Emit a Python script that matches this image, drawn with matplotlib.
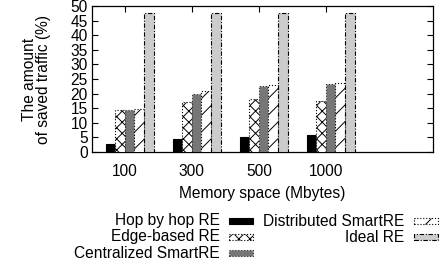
import matplotlib
matplotlib.use("Agg")
import matplotlib.pyplot as plt
from matplotlib.patches import Rectangle
import numpy as np

plt.rcParams['font.family'] = ['Liberation Sans', 'DejaVu Sans']
plt.rcParams['font.size'] = 11.2
plt.rcParams['hatch.linewidth'] = 0.7

# data
memory = ['100', '300', '500', '1000']
hop_by_hop = [2.7, 4.3, 5.0, 5.8]
edge_based = [14.3, 17.0, 18.0, 17.5]
centralized = [14.3, 20.0, 22.5, 23.3]
distributed = [14.7, 21.0, 23.0, 23.7]
ideal = [47.5, 47.5, 47.5, 47.5]

labels = ['Hop by hop RE', 'Edge-based RE', 'Centralized SmartRE',
          'Distributed SmartRE', 'Ideal RE']
series = [hop_by_hop, edge_based, centralized, distributed, ideal]
styles = [
    dict(facecolor='black', edgecolor='black', hatch=None, linestyle='-'),
    dict(facecolor='white', edgecolor='black', hatch='xxx', linestyle=':'),
    dict(facecolor='#777777', edgecolor='#333333', hatch=None, linestyle=':'),
    dict(facecolor='white', edgecolor='black', hatch='//', linestyle=':'),
    dict(facecolor='#cccccc', edgecolor='black', hatch=None, linestyle=(0, (4, 1.5, 1, 1.5))),
]

fig = plt.figure(figsize=(4.43, 2.68), dpi=100)
ax = fig.add_axes([92/443, 1-152/268, (433-92)/443, (152-6)/268])

x = np.arange(len(memory))
w = 1/7
for i, (vals, st) in enumerate(zip(series, styles)):
    ax.bar(x + (i-1.5)*w, vals, w, facecolor=st['facecolor'],
           edgecolor=st['edgecolor'], hatch=st['hatch'],
           linestyle=st['linestyle'], linewidth=0.8, zorder=3)

ax.set_xlim(-0.49, 4.6)
ax.set_ylim(0, 50)
ax.set_yticks(range(0, 51, 5))
ax.set_xticks(x)
ax.set_xticklabels(memory)
ax.tick_params(direction='in', top=True, right=True, length=4, width=0.8)
ax.tick_params(axis='x', pad=9)
ax.tick_params(axis='y', pad=3)
for s in ax.spines.values():
    s.set_linewidth(0.9)

ax.set_xlabel('Memory space (Mbytes)', labelpad=5)
ax.set_ylabel('The amount\nof saved traffic (%)', linespacing=0.95, labelpad=14)

# legend, gnuplot style: right-aligned text then a sample box
text_right = [220/443, 404/443]
box_left = [229/443, 414/443]
rows = [1-221/268, 1-237/268, 1-253/268]
for k, (lab, st) in enumerate(zip(labels, styles)):
    col, row = k // 3, k % 3
    fig.text(text_right[col], rows[row], lab, ha='right', va='center')
    fig.add_artist(Rectangle((box_left[col], rows[row]-3/268), 24/443, 6/268,
                             transform=fig.transFigure,
                             facecolor=st['facecolor'], edgecolor=st['edgecolor'],
                             hatch=st['hatch'], linestyle=st['linestyle'],
                             linewidth=0.8))

fig.savefig('out.png', dpi=100)
